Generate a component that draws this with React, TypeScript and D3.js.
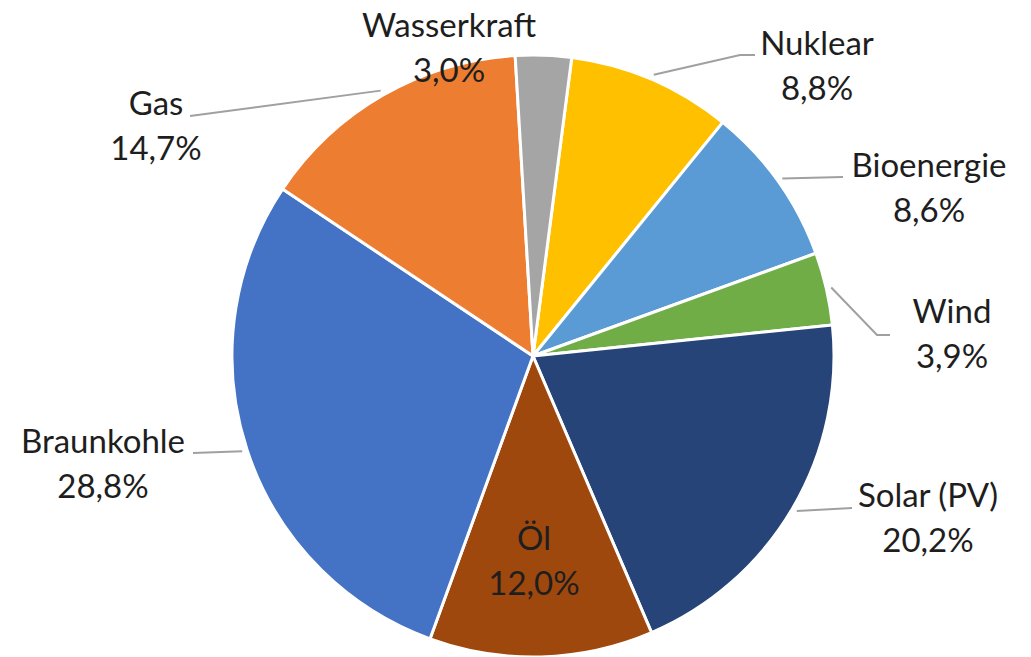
import React from "react";
import * as d3 from "d3";

const categories = ["Nuklear", "Bioenergie", "Wind", "Solar (PV)", "Öl", "Braunkohle", "Gas", "Wasserkraft"];
const shares = [8.8, 8.6, 3.9, 20.2, 12.0, 28.8, 14.7, 3.0];
const colors = ["#FFC000", "#5B9BD5", "#70AD47", "#264478", "#9E480E", "#4472C4", "#ED7D31", "#A5A5A5"];

// label layout (center x of text, first baseline, leader end near label, optional horizontal tail end)
const labelLayout = [
  { x: 817, y: 55, ex: 740, ey: 55, hx: 755, line: true },
  { x: 929, y: 177, ex: 843, ey: 177, hx: null, line: true },
  { x: 952, y: 323, ex: 877, ey: 335, hx: 890, line: true },
  { x: 928, y: 507, ex: 852, ey: 508, hx: null, line: true },
  { x: 534, y: 550, ex: 0, ey: 0, hx: null, line: false },
  { x: 103, y: 453, ex: 193, ey: 453, hx: null, line: true },
  { x: 156, y: 115, ex: 190, ey: 116, hx: null, line: true },
  { x: 449, y: 37, ex: 0, ey: 0, hx: null, line: false },
];

const W = 1031;
const H = 657;
const cx = 533;
const cy = 356;
const R = 301;
const startDeg = 7.4;

const locale = d3.formatLocale({ decimal: ",", thousands: ".", grouping: [3], currency: ["", "€"] });
const fmt = locale.format(".1f");

export default function App() {
  const start = (startDeg * Math.PI) / 180;
  const pie = d3
    .pie<number>()
    .sort(null)
    .value((d) => d)
    .startAngle(start)
    .endAngle(start + 2 * Math.PI);
  const arcs = pie(shares);
  const arc = d3.arc<d3.PieArcDatum<number>>().innerRadius(0).outerRadius(R);
  const anchorArc = d3.arc<d3.PieArcDatum<number>>().innerRadius(R + 5).outerRadius(R + 5);

  const font = "Lato, 'Open Sans', sans-serif";

  return (
    <svg
      width={W}
      height={H}
      style={{ position: "absolute", left: 0, top: 0, display: "block", background: "#fff" }}
    >
      <g transform={`translate(${cx},${cy})`}>
        {arcs.map((a, i) => (
          <path key={i} d={arc(a) || ""} fill={colors[i]} stroke="#fff" strokeWidth={3} strokeLinejoin="round" />
        ))}
      </g>
      {arcs.map((a, i) => {
        const L = labelLayout[i];
        if (!L.line) return null;
        const [ax, ay] = anchorArc.centroid(a);
        const pts: [number, number][] = [[cx + ax, cy + ay], [L.ex, L.ey]];
        if (L.hx !== null) pts.push([L.hx, L.ey]);
        return (
          <path
            key={"l" + i}
            d={d3.line()(pts) || ""}
            fill="none"
            stroke="#A0A0A0"
            strokeWidth={2}
          />
        );
      })}
      {arcs.map((a, i) => {
        const L = labelLayout[i];
        return (
          <text
            key={"t" + i}
            x={L.x}
            y={L.y}
            textAnchor="middle"
            fontFamily={font}
            fontSize={33}
            fill="#1e1e1e"
          >
            <tspan x={L.x} y={L.y}>{categories[i]}</tspan>
            <tspan x={L.x} y={L.y + 45}>{fmt(shares[i]) + "%"}</tspan>
          </text>
        );
      })}
    </svg>
  );
}
